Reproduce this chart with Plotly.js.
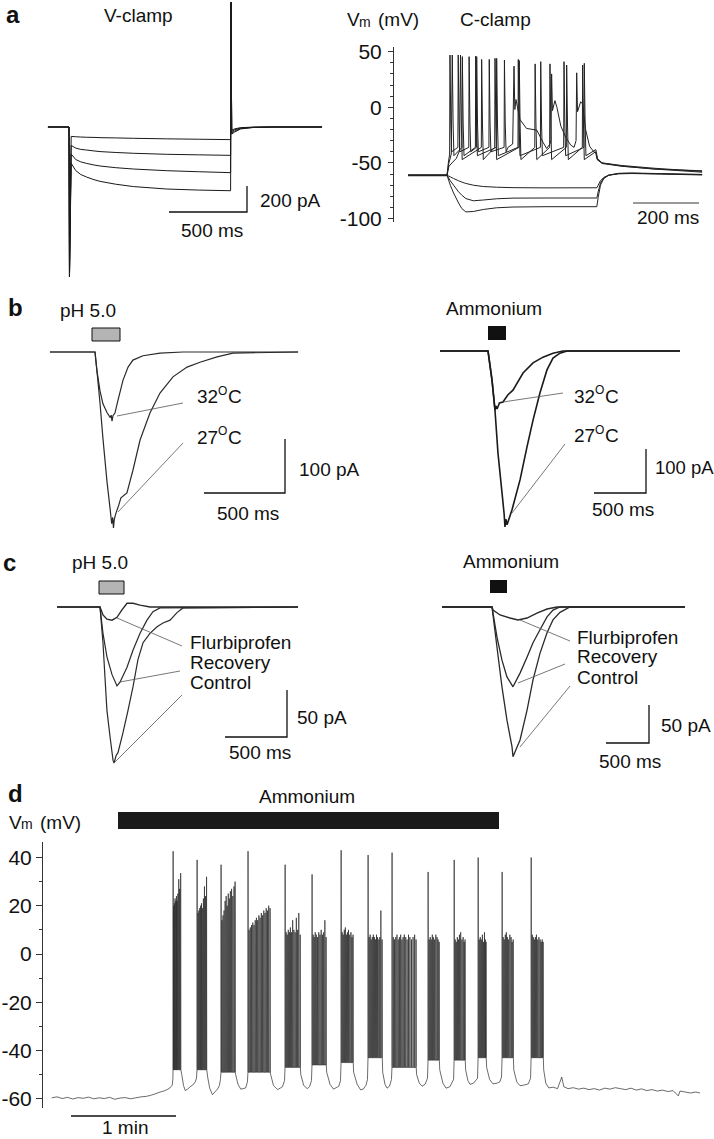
<!DOCTYPE html>
<html><head><meta charset="utf-8">
<script src="https://cdn.plot.ly/plotly-3.0.1.min.js"></script>
<style>html,body{margin:0;padding:0;background:#fff}</style>
</head><body><div id="chart" style="width:714px;height:1139px"></div>
<script>
// ---------------- DATA ----------------
// Panel a, V-clamp (ms, pA)
const vcTime = [-135, 0, 3, 14, 43, 75, 113, 160, 199, 300, 412, 626, 830, 1032, 1036, 1038, 1043, 1060, 1100, 1180, 1300, 1622];
const vcI1 = [0, 0, -1150, -72, -75, -77, -79, -80, -82, -84, -87, -91, -94, -97, -97, 960, -25, -15, -5, -1, 0, 0];
const vcI2 = [0, 0, -1150, -142, -162, -172, -177, -184, -189, -196, -202, -210, -214, -218, -218, 960, -35, -22, -8, -2, 0, 0];
const vcI3 = [0, 0, -1150, -208, -250, -268, -280, -292, -300, -313, -323, -336, -344, -351, -351, 960, -45, -32, -12, -3, 0, 0];
const vcI4 = [0, 0, -1150, -279, -335, -365, -385, -405, -418, -440, -458, -477, -485, -490, -490, 960, -55, -40, -15, -4, 0, 0];

// Panel a, C-clamp (ms, mV)
const ccHyperT = [-118, 0, 10, 20, 35, 45, 57, 80, 110, 150, 200, 300, 454, 458, 465, 475, 490, 520, 560, 650, 773];
const ccH1 = [-61, -61, -62.5, -64, -66, -67.2, -68.4, -70, -71.2, -71.8, -72.2, -72.4, -72.3, -70, -66, -63, -61, -59.8, -59.5, -60, -60.8];
const ccH2 = [-61, -61, -66, -70, -76, -79, -82, -84, -83.3, -82.2, -81.6, -81.5, -81.5, -76, -68, -63.5, -61, -59.5, -59.3, -59.8, -60.5];
const ccH3 = [-61, -61, -70, -77, -86, -91, -94, -93.6, -91.8, -90.3, -89.6, -89.3, -89.3, -81, -70, -64, -61, -59.3, -59, -59.6, -60.3];
const ccSpk1T = [41, 105, 145.5, 219, 267, 312, 362.6, 411];
const ccSpk1V = [47, 43, 44, 42, 39, 39, 38, 38];
const ccSpk2T = [16, 46.5, 87, 150.5, 216, 284, 354.5, 416];
const ccSpk2V = [47, 45.5, 46, 44, 43, 41, 41, 39.5];
const ccSpk3T = [9, 34, 67, 90, 128, 174];
const ccSpk3V = [47, 47, 45.5, 45.5, 43, 42.5];
const ccAhp = [-47, -43.5, -40];
const ccThreshold = -36;
const ccOnset1 = [[-118,-61],[0,-61],[6,-53],[15,-50],[28,-46],[38,-39]];
const ccOnset2 = [[-118,-61],[0,-61],[5,-51],[13,-42]];
const ccOnset3 = [[-118,-61.5],[0,-61.5],[4,-50],[8,-42]];
const ccTail1 = [[450,-40],[455,-47],[470,-50.5],[530,-53],[630,-55.5],[773,-58.3]];
const ccTail2 = [[451,-38],[456,-46],[470,-50],[530,-52.3],[630,-54.8],[773,-57.6]];
const ccBlock3 = [[185,-36],[199,-33],[203,37],[205.5,-2],[209,7],[213,1],[221,-11],[241,-19],[272,-20.5],[292,-32],[302,-37],[312,-33],[315,-29],[317,30],[319.5,-3],[327,6],[333,0],[345,-17],[360,-27],[375,-34],[385,-36],[391,-30],[393,31],[395.5,-4],[405,5],[411,3],[420,-20],[432,-35],[445,-40],[452,-41],[456,-47],[470,-50],[530,-52.8],[630,-55.5],[773,-57]];
const ccTicks = [-100, -50, 0, 50];
const ccTickText = ['-100', '-50', '0', '50'];

// Panel b (ms, pA)
const b1T27 = [-278, 0, 12, 31, 49, 74, 93, 103, 109, 114, 119, 125, 132, 145, 160, 197, 234, 278, 339, 401, 481, 568, 648, 753, 851, 1253];
const b1I27 = [0, 0, -35, -95, -160, -240, -290, -318, -306, -326, -310, -303, -296, -285, -270, -261, -219, -163, -113, -76, -46, -28, -19, -9, -2, 0];
const b1T32 = [-278, 0, 12, 31, 49, 74, 93, 100, 105, 111, 123, 142, 173, 204, 234, 296, 401, 543, 1253];
const b1I32 = [0, 0, -35, -72, -96, -112, -121, -117, -128, -118, -113, -89, -52, -28, -15, -7, -2, 0, 0];
const b2T27 = [-461.5, 0, 38.5, 67, 96, 135, 155, 163, 172, 183, 231, 308, 375, 433, 500, 567, 625, 692, 760, 1846];
const b2I27 = [0, 0, -66, -134, -232, -323, -370, -400, -382, -395, -361, -293, -218, -157, -95, -43, -16, -5, 0, 0];
const b2T32 = [-461.5, 0, 38.5, 67, 77, 87, 110, 144, 190, 240, 337, 433, 529, 625, 721, 1846];
const b2I32 = [0, 0, -66, -134, -125, -132, -118, -116, -100, -89, -50, -27, -14, -5, 0, 0];

// Panel c (ms, pA)
const c1TCtl = [-347, 0, 24, 40, 56, 81, 105, 113, 130, 145, 185, 226, 266, 306, 347, 403, 460, 508, 565, 621, 669, 1597];
const c1ICtl = [0, 0, -38, -74.5, -110, -138, -163, -166, -158, -155, -134, -110, -85, -56, -38, -28, -21, -17, -14, -6, -1, 0];
const c1TRec = [-347, 0, 24, 56, 97, 137, 161, 218, 266, 323, 379, 427, 484, 1597];
const c1IRec = [0, 0, -28, -53, -72, -84, -80, -64, -46, -28, -14, -5, -1, 0];
const c1TFlu = [-347, 0, 24, 56, 97, 137, 177, 218, 266, 323, 403, 1597];
const c1IFlu = [0, 0, -8.5, -13, -14, -11, -3, 4, 4, 2, 0, 0];
const c2TCtl = [-581.5, 0, 58, 116, 174, 233, 244, 326, 407, 477, 558, 640, 709, 791, 907, 2245];
const c2ICtl = [0, 0, -53, -105, -149, -184, -197, -175, -136, -96, -61, -34, -17, -7, 0, 0];
const c2TRec = [-581.5, 0, 58, 116, 174, 244, 326, 407, 477, 558, 640, 709, 791, 2245];
const c2IRec = [0, 0, -39.5, -70, -92, -105, -87, -66, -47, -30, -13, -4, 0, 0];
const c2TFlu = [-581.5, 0, 12, 93, 209, 302, 407, 523, 640, 756, 2245];
const c2IFlu = [0, 0, -4, -10.5, -14.5, -17, -14.5, -8, -2.6, 0, 0];

// Panel d (s, mV)
const dPre = [[5,-59.6],[8,-59.2],[11,-59.9],[14,-59.4],[17,-60.1],[20,-59.5],[23,-59.8],[26,-59.3],[29,-60],[32,-59.6],[35,-59.9],[38,-59.4],[41,-60.2],[44,-59.7],[47,-59.5],[50,-60],[53,-59.6],[56,-59.2],[59,-59],[61.3,-58.6],[64,-58],[67,-57.2],[69,-56.8],[70.9,-56.2],[72.5,-55.5],[73.8,-54.4],[74.2,-52]];
const dBurstTimes = [
 [74.3, 74.6, 75.0, 75.4, 75.8, 76.2, 76.6, 77.0, 77.5, 78.0, 78.6],
 [88.0, 88.5, 89.0, 89.5, 90.0, 90.5, 91.0, 91.6, 92.2, 92.8, 93.4],
 [101.7, 102.2, 102.8, 103.4, 104.0, 104.6, 105.2, 105.8, 106.4, 107.0, 107.7, 108.4, 109.1, 109.7],
 [117.1, 117.7, 118.4, 119.1, 119.8, 120.5, 121.2, 121.9, 122.6, 123.3, 124.0, 124.7, 125.4, 126.1, 126.8, 127.5, 128.2, 128.9, 129.7],
 [138.3, 138.9, 139.5, 140.1, 140.7, 141.3, 141.9, 142.6, 143.3, 144.0, 144.7, 145.4, 146.1, 146.9],
 [153.7, 154.3, 154.9, 155.5, 156.1, 156.8, 157.5, 158.2, 158.9, 159.6, 160.3, 161.0, 161.7],
 [170.3, 170.9, 171.5, 172.1, 172.7, 173.3, 173.9, 174.5, 175.2, 175.9, 176.5, 177.1],
 [185.7, 186.3, 186.9, 187.5, 188.1, 188.7, 189.3, 189.9, 190.5, 191.1, 191.8, 192.4, 193.0, 193.7],
 [199.4, 200.1, 200.8, 201.5, 202.2, 202.9, 203.6, 204.3, 205.0, 205.7, 206.4, 207.2, 208.0, 208.8, 209.6, 210.5, 211.4, 212.3, 213.1],
 [220.0, 220.6, 221.2, 221.8, 222.4, 223.0, 223.7, 224.4, 225.1, 225.7, 226.3],
 [234.9, 235.5, 236.1, 236.7, 237.3, 237.9, 238.6, 239.3, 240.0, 240.6, 241.1],
 [248.6, 249.2, 249.8, 250.4, 251.0, 251.6, 252.2, 252.7, 253.1],
 [262.3, 262.9, 263.5, 264.1, 264.7, 265.3, 266.0, 266.7, 267.4, 268.0, 268.6],
 [278.9, 279.5, 280.1, 280.7, 281.3, 281.9, 282.6, 283.3, 284.0, 284.6, 285.2, 285.7]
];
const dBurstPeaks = [
 [42.6, 20, 21, 23, 22, 24, 22, 25, 31, 27, 33.5],
 [39, 17, 18, 19, 20, 21, 19, 23, 28, 24, 32],
 [37, 14, 16, 18, 22, 24, 20, 25, 23, 26, 27, 24, 28, 30],
 [42.6, 10, 11, 12, 13, 12, 14, 15, 14, 16, 15, 17, 16, 18, 17, 19, 18, 20, 19],
 [37, 9, 8, 10, 9, 11, 9, 14, 10, 9, 15, 10, 17, 8],
 [33, 8, 7, 9, 8, 7, 9, 8, 10, 8, 9, 14, 7],
 [43, 9, 8, 10, 11, 8, 9, 10, 8, 9, 7, 8],
 [41, 7, 8, 6, 7, 8, 7, 6, 8, 7, 6, 7, 18, 6],
 [42, 7, 6, 7, 8, 6, 7, 8, 6, 7, 8, 7, 6, 8, 7, 6, 7, 8, 6],
 [34, 6, 7, 6, 8, 7, 6, 8, 7, 6, 5],
 [39, 6, 5, 7, 6, 8, 9, 6, 7, 5, 6],
 [40, 6, 7, 6, 8, 5, 9, 6, 5],
 [34, 7, 6, 8, 9, 7, 6, 8, 7, 5, 6],
 [40, 8, 7, 6, 7, 8, 6, 7, 6, 5, 6, 5]
];
const dBurstLow = [-48, -48, -49, -49, -47, -46, -45, -43, -47, -44, -44, -43, -43, -43];
const dGaps = [
 [[79.3,-50],[80.3,-54.5],[81.3,-56.6],[82.6,-56],[84.1,-55],[85.6,-54.3],[87,-53],[87.7,-51.5]],
 [[94.1,-51],[95.2,-55.5],[96.8,-58.3],[98.2,-57.2],[99.7,-56],[100.8,-54.5],[101.4,-52]],
 [[110.1,-50],[111.4,-54],[113,-56],[114.4,-55.8],[115.8,-55.5],[116.8,-53]],
 [[130.1,-50],[131.7,-54.5],[134,-56.2],[135.5,-55.6],[136.8,-55],[138,-52.5]],
 [[147.3,-50],[149,-54.5],[151,-55.8],[152.3,-55],[153.4,-52.5]],
 [[162.1,-49],[164,-54],[166,-56],[167.5,-55.4],[169,-54.8],[170,-52.5]],
 [[177.5,-49],[179.5,-54],[181.5,-56.3],[183,-56],[184.5,-54.5],[185.4,-52]],
 [[194.1,-49],[195.4,-54],[196.6,-55.6],[198,-54.8],[199.1,-52]],
 [[213.5,-50],[215,-53.5],[216.6,-54.8],[218.3,-54],[219.7,-51.5]],
 [[226.7,-48],[228.5,-53.5],[230.3,-55.6],[232.5,-55],[234.6,-52]],
 [[241.5,-48],[242.8,-52.5],[244,-54],[246,-53.5],[248.3,-51.5]],
 [[253.5,-47],[255.2,-52],[257.1,-53.8],[259.5,-53.5],[261,-53],[262,-51]],
 [[269,-48],[270.7,-53],[272.6,-54.6],[275,-54.3],[277.3,-53.8],[278.6,-51.5]]
];
const dPost = [[286.1,-48],[287.3,-53.5],[289,-55.5],[291.5,-55.2],[294,-55.8],[296.4,-51],[297.6,-55],[300,-55.8],[303,-55.4],[306,-56],[309,-55.6],[312,-56.2],[315,-55.8],[318,-56.4],[321,-55.6],[324,-56],[327,-55.4],[330,-55.8],[333,-56.2],[336,-55.6],[339,-56.4],[342,-55.9],[345,-56.6],[348,-56.2],[351,-56.8],[354,-56.4],[357,-57],[360,-56.6],[363,-58.8],[364,-56.8],[367,-57.2],[370,-57.6],[373,-57.2],[375.4,-57.6]];
const dTicks = [-60, -40, -20, 0, 20, 40];
const dTickText = ['-60', '-40', '-20', '0', '20', '40'];

// scale-bar lengths (data units)
const scaleTime = {A1: 500, A2: 200, B1: 500, B2: 500, C1: 500, C2: 500, DS: 60};
const scaleAmp = {A1: 200, B1: 100, B2: 100, C1: 50, C2: 50};

// ---------------- LAYOUT HELPERS ----------------
const W = 714, H = 1139;
const FONT = 'Liberation Sans, Arial, Helvetica, sans-serif';
const FS = 19;
const X = px => px / W, Y = py => 1 - py / H;
const panels = {
  A1: {n: 1, box: [40, 330, 0, 285], origin: [69, 127], scale: [6.41, 7.69]},
  A2: {n: 2, box: [394, 712, 47, 222], origin: [447, 107.3], scale: [3.03, 0.8985]},
  B1: {n: 3, box: [45, 350, 300, 540], origin: [95, 352], scale: [6.17, 1.852]},
  B2: {n: 4, box: [430, 700, 300, 540], origin: [488, 351], scale: [9.615, 2.273]},
  C1: {n: 5, box: [45, 350, 570, 775], origin: [100, 607], scale: [8.065, 1.064]},
  C2: {n: 6, box: [430, 700, 570, 775], origin: [492, 607], scale: [11.63, 1.316]},
  D:  {n: 7, box: [43, 712, 842, 1108], origin: [43, 954], scale: [0.5714, 0.4144]},
  DS: {n: 8, box: [43, 712, 1108, 1128], origin: [43, 1116], scale: [0.5714, 1]}
};
const sfx = p => (p.n === 1 ? '' : String(p.n));
function toData(p, px, py) { return [(px - p.origin[0]) * p.scale[0], (p.origin[1] - py) * p.scale[1]]; }

const layout = {width: W, height: H, margin: {l: 0, r: 0, t: 0, b: 0}, paper_bgcolor: '#fff', plot_bgcolor: 'rgba(0,0,0,0)', showlegend: false, hovermode: false, annotations: [], shapes: []};
const hidden = {visible: false, showgrid: false, zeroline: false, fixedrange: true};
for (const k in panels) {
  const p = panels[k], s = sfx(p), b = p.box;
  layout['xaxis' + s] = Object.assign({}, hidden, {domain: [X(b[0]), X(b[1])], range: [(b[0] - p.origin[0]) * p.scale[0], (b[1] - p.origin[0]) * p.scale[0]], anchor: 'y' + s});
  layout['yaxis' + s] = Object.assign({}, hidden, {domain: [Y(b[3]), Y(b[2])], range: [(p.origin[1] - b[3]) * p.scale[1], (p.origin[1] - b[2]) * p.scale[1]], anchor: 'x' + s});
}
function shownY(ax, vals, txt, size, major, minor, standoff) {
  return Object.assign(ax, {visible: true, showline: true, linecolor: '#333', linewidth: 1, ticks: 'outside', ticklen: major, tickwidth: 1, tickcolor: '#333',
    tickmode: 'array', tickvals: vals, ticktext: txt, tickfont: {family: FONT, size: size, color: '#111'}, ticklabelstandoff: standoff,
    minor: {ticks: 'outside', ticklen: minor, tickwidth: 1, tickcolor: '#333', dtick: 10, tick0: 0, showgrid: false}});
}
shownY(layout.yaxis2, ccTicks, ccTickText, 21, 5, 3, 2);
shownY(layout.yaxis7, dTicks, dTickText, 21, 6, 3, 0);

const traces = [];
function line(p, t, v, color, width) {
  const s = sfx(p);
  traces.push({type: 'scatter', mode: 'lines', x: t, y: v, xaxis: 'x' + s, yaxis: 'y' + s, line: {color: color, width: width, simplify: false}, hoverinfo: 'skip', showlegend: false});
}
function scaleBar(p, corner, lenT, lenA, color) {
  const c = toData(p, corner[0], corner[1]);
  const xs = [c[0] - lenT, c[0]], ys = [c[1], c[1]];
  if (lenA) { xs.push(c[0]); ys.push(c[1] + lenA); }
  line(p, xs, ys, color, 1.3);
}
function txt(s, px, py, anchor, size, bold) {
  const font = {family: FONT, size: size || FS, color: '#111'};
  if (bold) font.weight = 'bold';
  layout.annotations.push({text: s, x: X(px), y: Y(py), xref: 'paper', yref: 'paper', xanchor: anchor || 'left', yanchor: 'middle', showarrow: false, font: font});
}
function temp(num, px, py) {
  txt(num, px, py, 'left');
  txt('O', px + 21, py - 6, 'left', 12);
  txt('C', px + 31, py, 'left');
}
function vm(px, py) {
  txt('V', px, py, 'left');
  txt('m', px + 12, py + 2, 'left', 14);
  txt('(mV)', px + 31, py, 'left');
}
function seg(x0, y0, x1, y1, color, w) {
  layout.shapes.push({type: 'line', xref: 'paper', yref: 'paper', x0: X(x0), y0: Y(y0), x1: X(x1), y1: Y(y1), line: {color: color, width: w}});
}
function rect(x0, y0, x1, y1, fill, lc) {
  layout.shapes.push({type: 'rect', xref: 'paper', yref: 'paper', x0: X(x0), y0: Y(y1), x1: X(x1), y1: Y(y0), fillcolor: fill, line: {color: lc || fill, width: lc ? 1 : 0}});
}

// ---------------- PANEL a ----------------
const P = panels;
[vcI1, vcI2, vcI3, vcI4].forEach(I => line(P.A1, vcTime, I, '#1a1a1a', 1));
scaleBar(P.A1, [247, 212], scaleTime.A1, scaleAmp.A1, '#111');

[ccH1, ccH2, ccH3].forEach(v => line(P.A2, ccHyperT, v, '#222', 1));
function ccTrace(onset, spkT, spkV, ahp, after) {
  const t = [], v = [];
  onset.forEach(q => { t.push(q[0]); v.push(q[1]); });
  spkT.forEach((s, i) => {
    if (i > 0) { t.push(s - 1); v.push(ccThreshold); }
    t.push(s); v.push(spkV[i]);
    t.push(s + 2.5); v.push(-15);
    t.push(s + 5); v.push(ahp);
  });
  after.forEach(q => { t.push(q[0]); v.push(q[1]); });
  return {t, v};
}
[ccTrace(ccOnset1, ccSpk1T, ccSpk1V, ccAhp[0], ccTail1),
 ccTrace(ccOnset2, ccSpk2T, ccSpk2V, ccAhp[1], ccTail2),
 ccTrace(ccOnset3, ccSpk3T, ccSpk3V, ccAhp[2], ccBlock3)].forEach(r => line(P.A2, r.t, r.v, '#222', 1));
scaleBar(P.A2, [699, 203], scaleTime.A2, null, '#777');

// ---------------- PANEL b ----------------
line(P.B1, b1T27, b1I27, '#2a2a2a', 1.2);
line(P.B1, b1T32, b1I32, '#2a2a2a', 1.2);
scaleBar(P.B1, [285, 493], scaleTime.B1, scaleAmp.B1, '#111');
line(P.B2, b2T27, b2I27, '#1a1a1a', 1.6);
line(P.B2, b2T32, b2I32, '#1a1a1a', 1.6);
scaleBar(P.B2, [646, 493], scaleTime.B2, scaleAmp.B2, '#111');

// ---------------- PANEL c ----------------
line(P.C1, c1TCtl, c1ICtl, '#2a2a2a', 1.2);
line(P.C1, c1TRec, c1IRec, '#2a2a2a', 1.2);
line(P.C1, c1TFlu, c1IFlu, '#2a2a2a', 1.4);
scaleBar(P.C1, [287, 737], scaleTime.C1, scaleAmp.C1, '#111');
line(P.C2, c2TCtl, c2ICtl, '#2a2a2a', 1.3);
line(P.C2, c2TRec, c2IRec, '#2a2a2a', 1.3);
line(P.C2, c2TFlu, c2IFlu, '#2a2a2a', 1.4);
scaleBar(P.C2, [649, 743], scaleTime.C2, scaleAmp.C2, '#111');

// ---------------- PANEL d ----------------
(function () {
  const t = [], v = [];
  const add = arr => arr.forEach(q => { t.push(q[0]); v.push(q[1]); });
  add(dPre);
  dBurstTimes.forEach((bt, b) => {
    const pk = dBurstPeaks[b], lo = dBurstLow[b];
    bt.forEach((s, i) => { t.push(s, s + 0.06, s + 0.18); v.push(lo, pk[i], lo); });
    if (b < dGaps.length) add(dGaps[b]);
  });
  add(dPost);
  line(P.D, t, v, '#2b2b2b', 0.7);
})();
scaleBar(P.DS, [176, 1116], scaleTime.DS, null, '#111');

// ---------------- DECORATIONS ----------------
rect(92, 328, 120, 341, '#b4b4b4', '#111');
rect(488, 326, 506, 340, '#111');
rect(99, 581, 124, 594, '#b4b4b4', '#111');
rect(490, 580, 507, 593, '#111');
rect(118, 812, 499, 829, '#1a1a1a');
const LC = '#555', LW = 0.8;
seg(117, 416, 183, 403, LC, LW); seg(118, 512, 183, 443, LC, LW);
seg(503, 402, 563, 393, LC, LW); seg(512, 513, 565, 444, LC, LW);
seg(117, 618, 182, 646, LC, LW); seg(120, 682, 180, 671, LC, LW); seg(115, 762, 182, 695, LC, LW);
seg(520, 620, 570, 641, LC, LW); seg(518, 683, 565, 664, LC, LW); seg(520, 747, 570, 686, LC, LW);

// texts
txt('a', 13, 15, 'center', 24, true);
txt('V-clamp', 138, 16, 'center');
vm(345, 20);
txt('C-clamp', 495, 20, 'center');
txt('200 pA', 258, 200, 'left');
txt('500 ms', 212, 230, 'center');
txt('200 ms', 668, 218, 'center');

txt('b', 15, 307, 'center', 24, true);
txt('pH 5.0', 88, 310, 'center');
txt('Ammonium', 494, 309, 'center');
temp('32', 195, 397);
temp('27', 195, 437);
txt('100 pA', 297, 469, 'left');
txt('500 ms', 248, 513, 'center');
temp('32', 572, 396);
temp('27', 572, 436);
txt('100 pA', 653, 467, 'left', 18.5);
txt('500 ms', 623, 510, 'center');

txt('c', 9, 562, 'center', 24, true);
txt('pH 5.0', 100, 562, 'center');
txt('Ammonium', 511, 561, 'center');
txt('Flurbiprofen', 188, 642, 'left');
txt('Recovery', 188, 662, 'left');
txt('Control', 188, 682, 'left');
txt('50 pA', 295, 717, 'left');
txt('500 ms', 260, 752, 'center');
txt('Flurbiprofen', 575, 637, 'left');
txt('Recovery', 575, 657, 'left');
txt('Control', 575, 677, 'left');
txt('50 pA', 659, 725, 'left');
txt('500 ms', 630, 761, 'center');

txt('d', 15, 793, 'center', 24, true);
txt('Ammonium', 307, 796, 'center');
vm(7, 822);
txt('1 min', 125, 1127, 'center');

Plotly.newPlot('chart', traces, layout, {staticPlot: true, displayModeBar: false});
</script></body></html>
